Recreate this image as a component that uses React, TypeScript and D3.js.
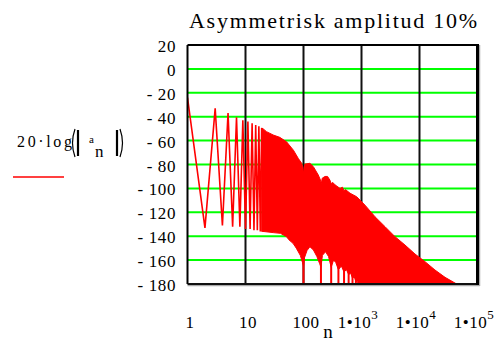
import React from "react";
import * as d3 from "d3";

const W = 502;
const H = 342;

const title = "Asymmetrisk amplitud 10%";

// separate harmonics, still visible as single strokes at the left
const lowN = [1, 2, 3, 4, 5, 6, 7, 8, 9, 10, 11, 12, 13, 14, 15, 16, 17, 18, 19];
const lowDb = [-24, -133, -33, -131, -37, -132, -40.5, -132, -43, -134, -44, -134, -45.5, -135, -47, -135, -48, -136, -49.5];

// upper edge of the dense band (odd harmonics)
const topN = [19, 20, 23, 30, 39, 51, 67, 81, 93, 97, 100, 103, 106, 129, 148, 180, 196, 203, 210, 235, 260, 285, 300, 320, 349, 426, 470, 500, 530, 634, 827, 1149, 1709, 2542, 3784, 5626, 8363, 12440, 18500, 27540, 43770, 100000];
const topDb = [-49.5, -50, -52.5, -55.3, -57.3, -61, -68, -74.8, -79, -82, -87.4, -82, -79.6, -79, -81.8, -88.8, -93, -96, -91.5, -90, -90, -93, -96, -95, -97, -100, -99, -102, -101, -104, -107, -114, -123.7, -132, -140.4, -147.4, -154.9, -161.3, -168.3, -174.4, -180, -196];

// lower edge of the band (even harmonics)
const botN = [19, 20, 30, 40, 51, 56, 66, 75, 88, 96, 100, 104, 115, 129, 148, 170, 190, 200, 212, 240, 270, 300, 330, 360, 400, 450, 500, 550, 600, 650, 700, 750, 800, 850, 900, 1000, 100000];
const botDb = [-136, -136, -137, -137.6, -140.4, -143, -146, -150, -156, -162, -165, -158, -152, -148.8, -151.5, -157, -163, -166, -156, -153, -157, -166, -160, -162, -168, -165, -170, -168, -172, -171, -175, -174, -178, -178, -182, -200, -200];

// harmonics that drop below the plot floor inside the band
const dipN = [100, 200, 300, 400, 500, 600, 700, 800];

const yTicks = [20, 0, -20, -40, -60, -80, -100, -120, -140, -160, -180];
const xTicks = [1, 10, 100, 1e3, 1e4, 1e5];
const xExp = ["", "", "", "3", "4", "5"];

const serif = "Liberation Serif, DejaVu Serif, serif";

export default function App() {
  const x = d3.scaleLog().domain([1, 1e5]).range([187.5, 477.5]);
  const y = d3.scaleLinear().domain([-180, 20]).range([284, 45]);
  const [x0, x1] = x.range();
  const [yb, yt] = y.range();

  const toPath = d3
    .line<[number, number]>()
    .x((d) => x(d[0]))
    .y((d) => y(d[1]));

  const topPts = topN.map((n, i) => [n, topDb[i]] as [number, number]);
  const botPts = botN.map((n, i) => [n, botDb[i]] as [number, number]).reverse();
  const band = toPath([...topPts, ...botPts]) + "Z";
  const zig = toPath(lowN.map((n, i) => [n, lowDb[i]] as [number, number]));

  const lowerAt = d3.scaleLog().domain(botN).range(botDb);

  return (
    <svg
      width={W}
      height={H}
      style={{ position: "absolute", left: 0, top: 0, background: "#fff", fontFamily: serif }}
    >
      <defs>
        <clipPath id="plot">
          <rect x={x0} y={yt} width={x1 - x0} height={yb - yt} />
        </clipPath>
      </defs>

      <text x={333} y={28} textAnchor="middle" fontSize={22} textLength={288} lengthAdjust="spacing">
        {title}
      </text>

      {/* grid */}
      {yTicks.slice(1, -1).map((v) => (
        <line key={"g" + v} x1={x0} x2={x1} y1={y(v)} y2={y(v)} stroke="#00ff00" strokeWidth={2} />
      ))}
      {xTicks.slice(1, -1).map((v) => (
        <line key={"v" + v} x1={x(v)} x2={x(v)} y1={yt} y2={yb} stroke="#111" strokeWidth={2} />
      ))}

      {/* spectrum */}
      <g clipPath="url(#plot)">
        <path d={band} fill="#ff0000" stroke="#ff0000" strokeWidth={1} />
        <path d={zig ?? ""} fill="none" stroke="#ff0000" strokeWidth={1.6} />
        {dipN.map((n) => (
          <line
            key={"d" + n}
            x1={x(n)}
            x2={x(n)}
            y1={y(lowerAt(n) + 10)}
            y2={yb}
            stroke="#ff0000"
            strokeWidth={2}
          />
        ))}
      </g>

      {/* frame */}
      <line x1={x0} x2={x1 + 2} y1={yb + 1.5} y2={yb + 1.5} stroke="#aaa" strokeWidth={1.5} />
      <line x1={x1 + 2} x2={x1 + 2} y1={yt} y2={yb + 2} stroke="#aaa" strokeWidth={1.5} />
      <line x1={x0} x2={x1} y1={yt} y2={yt} stroke="#000" strokeWidth={2} />
      <line x1={x0} x2={x0} y1={yt} y2={yb} stroke="#000" strokeWidth={2} />
      <line x1={x0} x2={x1} y1={yb} y2={yb} stroke="#111" strokeWidth={2} />
      <line x1={x1} x2={x1} y1={yt - 1} y2={yb + 1} stroke="#000" strokeWidth={3} />

      {/* y tick labels */}
      {yTicks.map((v) => (
        <text key={"yl" + v} x={176} y={y(v) + 7} textAnchor="end" fontSize={17} letterSpacing={0.6}>
          {v < 0 ? "- " + Math.abs(v) : String(v)}
        </text>
      ))}

      {/* x tick labels */}
      {xTicks.map((v, i) =>
        xExp[i] ? (
          <text key={"xl" + v} x={x(v) - 3.5} y={328} textAnchor="middle" fontSize={17} letterSpacing={0.5}>
            1•10
            <tspan fontSize={13} dy={-9}>
              {xExp[i]}
            </tspan>
          </text>
        ) : (
          <text key={"xl" + v} x={x(v) + 2.5} y={328} textAnchor="middle" fontSize={17} letterSpacing={0.5}>
            {String(v)}
          </text>
        )
      )}
      <text x={328} y={338} textAnchor="middle" fontSize={19}>
        n
      </text>

      {/* legend */}
      <text x={17} y={147} fontSize={16} textLength={55} lengthAdjust="spacing">
        20·log
      </text>
      <path d="M75,129 Q70,143 75,157" fill="none" stroke="#000" strokeWidth={1.2} />
      <line x1={78} x2={78} y1={130} y2={156} stroke="#000" strokeWidth={2.2} />
      <text x={89} y={143} fontSize={11}>
        a
      </text>
      <text x={95} y={157} fontSize={17}>
        n
      </text>
      <line x1={117} x2={117} y1={130} y2={156} stroke="#000" strokeWidth={2.2} />
      <path d="M120,129 Q125,143 120,157" fill="none" stroke="#000" strokeWidth={1.2} />
      <line x1={13} x2={64} y1={177} y2={177} stroke="#ff0000" strokeWidth={1.6} />
    </svg>
  );
}
